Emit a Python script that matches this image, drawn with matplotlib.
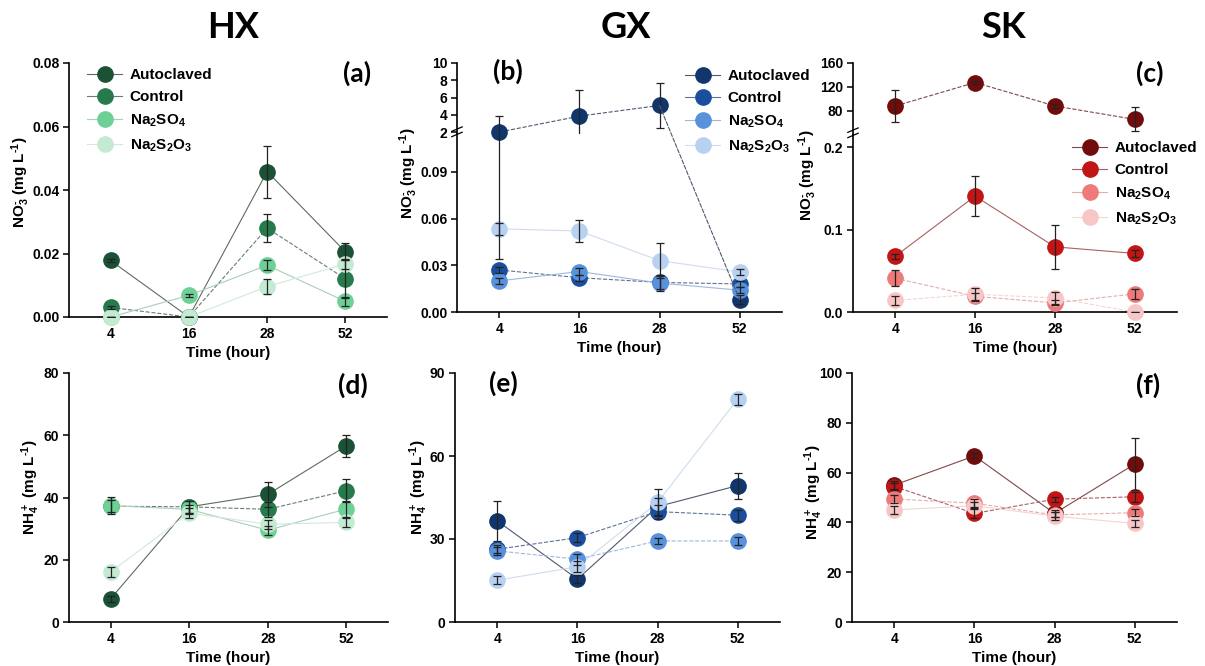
import matplotlib.pyplot as plt
from matplotlib.patches import ConnectionPatch
from matplotlib.lines import Line2D
import numpy as np

plt.rcParams['font.family'] = 'Liberation Sans'
plt.rcParams['font.weight'] = 'bold'
plt.rcParams['axes.labelweight'] = 'bold'
plt.rcParams['mathtext.fontset'] = 'custom'
plt.rcParams['mathtext.bf'] = 'Liberation Sans:bold'
plt.rcParams['mathtext.rm'] = 'Liberation Sans:bold'
plt.rcParams['mathtext.default'] = 'bf'

# sampling times (hours) and treatments
times = ['4', '16', '28', '52']
treatments = ['Autoclaved', 'Control', 'Na$_2$SO$_4$', 'Na$_2$S$_2$O$_3$']

# NO3- (mg/L), rows = treatments
hx_no3 = [[0.0178, 0.0, 0.0458, 0.0205],
          [0.003, 0.0, 0.028, 0.012],
          [0.0, 0.0068, 0.0163, 0.0049],
          [0.0, 0.0, 0.0096, 0.0167]]
hx_no3_sd = [[0.0005, 0.0, 0.0082, 0.0027],
             [0.0005, 0.0, 0.0044, 0.006],
             [0.0, 0.0005, 0.0015, 0.0015],
             [0.0, 0.0, 0.0025, 0.0015]]

gx_no3 = [[2.0, 3.84, 5.08, 0.008],
          [0.027, 0.022, 0.019, 0.018],
          [0.020, 0.026, 0.0186, 0.014],
          [0.0534, 0.052, 0.033, 0.0257]]
gx_no3_sd = [[1.8, 3.0, 2.6, 0.003],
             [0.002, 0.002, 0.004, 0.002],
             [0.002, 0.002, 0.005, 0.002],
             [0.004, 0.007, 0.011, 0.002]]
gx_auto_low_whisker = 0.034   # lower end of the 4 h autoclaved bar, below the break

sk_no3 = [[88.4, 127.5, 88.4, 66.0],
          [0.0676, 0.1405, 0.079, 0.071],
          [0.041, 0.019, 0.011, 0.022],
          [0.014, 0.0215, 0.017, 0.0]]
sk_no3_sd = [[27.0, 3.0, 3.0, 20.0],
             [0.003, 0.024, 0.027, 0.004],
             [0.010, 0.004, 0.003, 0.006],
             [0.006, 0.008, 0.007, 0.0]]

# NH4+ (mg/L)
hx_nh4 = [[7.5, 37.0, 41.0, 56.6],
          [37.2, 37.0, 36.2, 42.2],
          [37.4, 36.2, 29.5, 36.3],
          [16.1, 35.0, 31.4, 32.0]]
hx_nh4_sd = [[1.0, 2.0, 4.0, 3.5],
             [2.0, 2.0, 2.5, 3.6],
             [2.7, 1.5, 1.5, 2.5],
             [1.5, 1.5, 1.5, 1.5]]

gx_nh4 = [[36.5, 15.5, 41.7, 49.3],
          [26.3, 30.5, 39.9, 38.6],
          [25.7, 22.7, 29.3, 29.3],
          [15.1, 20.0, 43.2, 80.5]]
gx_nh4_sd = [[7.3, 1.5, 3.0, 4.7],
             [1.5, 1.5, 2.5, 2.0],
             [1.5, 2.0, 1.2, 1.5],
             [1.5, 2.0, 5.0, 2.0]]

sk_nh4 = [[55.0, 66.7, 43.6, 63.4],
          [54.4, 43.6, 49.3, 50.3],
          [49.4, 47.7, 43.0, 43.9],
          [45.0, 46.7, 42.5, 39.6]]
sk_nh4_sd = [[1.5, 1.0, 1.5, 10.4],
             [1.5, 2.0, 1.0, 2.0],
             [1.5, 1.5, 1.0, 1.5],
             [1.5, 1.5, 1.5, 1.5]]

greens = ['#1b5236', '#277a4c', '#6fd096', '#c4ead3']
blues = ['#11366b', '#1b4f9e', '#5892dc', '#b8d1f1']
reds = ['#700c0c', '#c21515', '#ee7a7a', '#f7c6c6']
green_lines = ['#5d6b63', '#687f71', '#a8cfb8', '#d3e8db']
blue_lines = ['#4e5a70', '#5e7394', '#9db8de', '#cfdcef']
red_lines = ['#824848', '#a86060', '#e6adad', '#f3d5d5']

W, H = 1205, 666
x = np.arange(len(times))
MS = 11

fig = plt.figure(figsize=(W / 100, H / 100), dpi=100)


def box(l, t, r, b):
    return [l / W, 1 - b / H, (r - l) / W, (b - t) / H]


def style(ax, bottom=True):
    ax.patch.set_visible(False)
    ax.spines['top'].set_visible(False)
    ax.spines['right'].set_visible(False)
    ax.spines['left'].set_linewidth(1.2)
    ax.spines['bottom'].set_linewidth(1.2)
    ax.tick_params(direction='out', length=4, width=1.1, labelsize=10, pad=3)
    ax.set_xlim(-0.53, 3.53)
    if bottom:
        ax.set_xticks(x)
        ax.set_xticklabels(times)
        ax.set_xlabel('Time (hour)', fontsize=11, labelpad=4)
    else:
        ax.spines['bottom'].set_visible(False)
        ax.set_xticks([])


def points(ax, xs, ys, es, col, z):
    ax.errorbar(xs, ys, yerr=es, fmt='none', ecolor='#222222', elinewidth=0.9,
                capsize=3, capthick=0.9, zorder=8)
    ax.plot(xs, ys, 'o', ms=MS, color=col, mec=col, zorder=z, clip_on=False)


def draw(ax, mean, sd, cols, lcols, styles):
    for i in range(4):
        m = np.array(mean[i])
        s = np.array(sd[i])
        ax.plot(x, m, color=lcols[i], lw=0.8, ls=styles[i], zorder=2)
        points(ax, x, m, s, cols[i], 3 + 0.1 * i)


def draw_broken(ax_hi, ax_lo, mean, sd, cut, cols, lcols, styles):
    for i in range(4):
        m = np.array(mean[i])
        s = np.array(sd[i])
        hi = m > cut
        for j in range(3):
            a_ax = ax_hi if hi[j] else ax_lo
            b_ax = ax_hi if hi[j + 1] else ax_lo
            if a_ax is b_ax:
                a_ax.plot(x[j:j + 2], m[j:j + 2], color=lcols[i], lw=0.8,
                          ls=styles[i], zorder=2)
            else:
                con = ConnectionPatch(xyA=(x[j], m[j]), coordsA=a_ax.transData,
                                      xyB=(x[j + 1], m[j + 1]), coordsB=b_ax.transData,
                                      color=lcols[i], lw=0.8, ls=styles[i], zorder=2)
                fig.add_artist(con)
        for ax, mask in ((ax_hi, hi), (ax_lo, ~hi)):
            if mask.any():
                points(ax, x[mask], m[mask], s[mask], cols[i], 3 + 0.1 * i)


def break_marks(ax_lo):
    for off in (0.0, 0.03):
        ax_lo.plot([-0.016, 0.016], [0.985 + off, 1.01 + off], transform=ax_lo.transAxes,
                   color='k', lw=0.9, clip_on=False, zorder=10)


def legend(ax, cols, lcols, anchor):
    handles = [Line2D([], [], color=lcols[i], lw=0.8, marker='o', ms=MS,
                      mfc=cols[i], mec=cols[i]) for i in range(4)]
    ax.legend(handles, treatments, loc='upper left', bbox_to_anchor=anchor,
              bbox_transform=fig.transFigure, frameon=False, fontsize=11,
              handlelength=2.3, handletextpad=0.5, labelspacing=0.55,
              borderpad=0, borderaxespad=0)


def ylab(ax, text, xc, yc):
    ax.set_ylabel(text, fontsize=11)
    ax.yaxis.set_label_coords(xc, yc)


no3_label = r'NO$_3^{\text{-}}$ (mg L$^{\text{-}1}$)'
nh4_label = r'NH$_4^+$ (mg L$^{\text{-}1}$)'

# (a) HX nitrate
ax_a = fig.add_axes(box(69, 63, 387, 317))
style(ax_a)
draw(ax_a, hx_no3, hx_no3_sd, greens, green_lines, ['-', '--', '-', '-'])
ax_a.set_ylim(0, 0.08)
ax_a.set_yticks([0, 0.02, 0.04, 0.06, 0.08])
ax_a.yaxis.set_major_formatter('{x:.2f}')
ylab(ax_a, no3_label, -0.115, 0.53)
legend(ax_a, greens, green_lines, (87 / W, 1 - 68 / H))

# (b) GX nitrate, broken axis
ax_b_hi = fig.add_axes(box(457, 63, 782, 134))
ax_b = fig.add_axes(box(457, 134, 782, 312))
style(ax_b_hi, bottom=False)
style(ax_b)
ax_b_hi.set_ylim(1.77, 10)
ax_b_hi.set_yticks([2, 4, 6, 8, 10])
ax_b.set_ylim(0, 0.1143)
ax_b.set_yticks([0, 0.03, 0.06, 0.09])
ax_b.yaxis.set_major_formatter('{x:.2f}')
draw_broken(ax_b_hi, ax_b, gx_no3, gx_no3_sd, 1.0, blues, blue_lines, ['--', '--', '-', '-'])
ax_b.vlines(x[0], gx_auto_low_whisker, 1.0, color='#222222', lw=0.9, zorder=8)
ax_b.plot(x[0], gx_auto_low_whisker, marker='_', ms=6, mew=0.9, color='#222222', zorder=8)
break_marks(ax_b)
ylab(ax_b, no3_label, -0.115, 0.78)
legend(ax_b, blues, blue_lines, (685 / W, 1 - 69 / H))

# (c) SK nitrate, broken axis
ax_c_hi = fig.add_axes(box(853, 63, 1177, 135))
ax_c = fig.add_axes(box(853, 135, 1177, 312))
style(ax_c_hi, bottom=False)
style(ax_c)
ax_c_hi.set_ylim(40, 160)
ax_c_hi.set_yticks([80, 120, 160])
ax_c.set_ylim(0, 0.2146)
ax_c.set_yticks([0, 0.1, 0.2])
ax_c.yaxis.set_major_formatter('{x:.1f}')
draw_broken(ax_c_hi, ax_c, sk_no3, sk_no3_sd, 1.0, reds, red_lines, ['--', '-', '--', '--'])
break_marks(ax_c)
ylab(ax_c, no3_label, -0.105, 0.77)
legend(ax_c, reds, red_lines, (1072 / W, 1 - 141 / H))

# (d)-(f) ammonium
ax_d = fig.add_axes(box(69, 373, 388, 622))
style(ax_d)
draw(ax_d, hx_nh4, hx_nh4_sd, greens, green_lines, ['-', '--', '-', '-'])
ax_d.set_ylim(0, 80)
ax_d.set_yticks([0, 20, 40, 60, 80])
ylab(ax_d, nh4_label, -0.085, 0.54)

ax_e = fig.add_axes(box(455, 373, 780, 622))
style(ax_e)
draw(ax_e, gx_nh4, gx_nh4_sd, blues, blue_lines, ['-', '--', '--', '-'])
ax_e.set_ylim(0, 90)
ax_e.set_yticks([0, 30, 60, 90])
ylab(ax_e, nh4_label, -0.078, 0.54)

ax_f = fig.add_axes(box(852, 373, 1177, 622))
style(ax_f)
draw(ax_f, sk_nh4, sk_nh4_sd, reds, red_lines, ['-', '--', '--', '-'])
ax_f.set_ylim(0, 100)
ax_f.set_yticks([0, 20, 40, 60, 80, 100])
ylab(ax_f, nh4_label, -0.083, 0.52)

# site titles and panel letters
for name, cx in (('HX', 233), ('GX', 626), ('SK', 1003)):
    fig.text(cx / W, 1 - 28 / H, name, ha='center', va='center', fontsize=26,
             weight='bold', family='Lato')
for tag, cx, cy in (('(a)', 357, 73), ('(b)', 508, 71), ('(c)', 1150, 73),
                    ('(d)', 353, 385), ('(e)', 503, 383), ('(f)', 1148, 385)):
    fig.text(cx / W, 1 - cy / H, tag, ha='center', va='center', fontsize=19,
             weight='bold', family='Lato')

fig.savefig('out.png', dpi=100)
